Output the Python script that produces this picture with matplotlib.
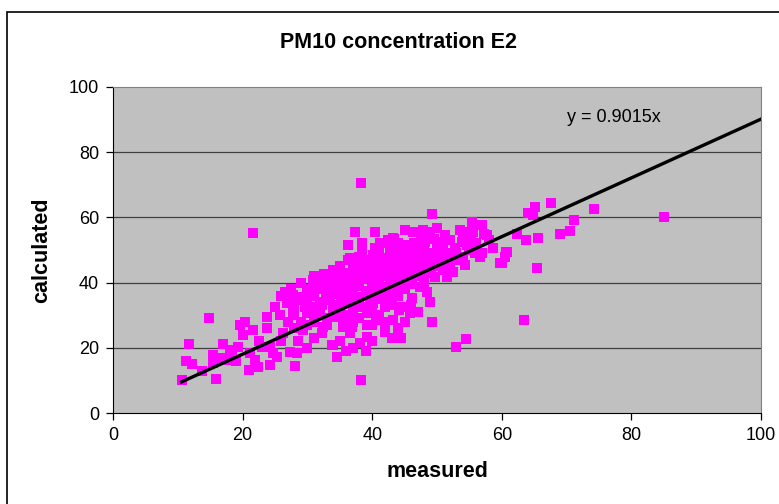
import matplotlib
matplotlib.use("Agg")
import matplotlib.pyplot as plt
from matplotlib.patches import Rectangle

plt.rcParams['font.family'] = ['Liberation Sans', 'DejaVu Sans']

# measured vs calculated PM10 (ug/m3), station E2
measured = [
    10.6, 11.7, 11.3, 12.2, 13.7, 14.8, 15.9, 15.4, 15.4, 17.0, 17.6, 18.4, 19.3, 19.6, 20.4,
    20.1, 21.6, 21.1, 21.0, 22.4, 21.9, 23.0, 23.8, 24.2, 23.8, 25.0, 25.8, 26.5, 27.8, 26.9,
    27.8, 26.2, 27.3, 28.1, 28.4, 24.7, 25.3, 24.2, 29.3, 29.9, 29.3, 29.9, 30.9, 32.4, 30.9,
    32.4, 33.8, 32.3, 33.5, 34.6, 35.5, 35.5, 36.9, 37.3, 34.6, 21.6, 16.5, 18.0, 19.0, 22.5,
    26.0, 27.0, 28.5, 30.0, 31.0, 28.0,
    38.3, 38.3, 44.5, 53.0, 54.5, 63.4, 49.2, 49.2, 65.4, 85.0, 74.2, 67.6, 71.1, 70.5, 69.0,
    65.6, 63.7, 62.3, 64.0, 65.1, 64.8, 60.6, 60.0, 60.5, 60.8, 59.7, 58.6, 57.7, 57.0, 55.4,
    55.6, 54.0, 53.9, 54.3, 56.6, 53.0, 51.5, 52.5, 50.9, 50.0, 48.9, 47.8, 46.3, 45.0, 43.2,
    42.7, 44.6, 46.9, 50.5, 49.4, 48.5, 49.7, 47.4, 48.5, 48.9, 46.1, 45.8, 44.6, 43.2, 42.0,
    40.1, 39.2, 39.2, 39.2, 38.1, 37.0, 36.6, 35.5, 34.0, 34.6, 37.3, 40.4, 36.3, 38.4, 41.2,
    36.3, 38.9, 40.1, 43.8,
    31.0, 32.0, 33.0, 33.0, 34.0, 34.0, 35.0, 35.0, 35.0, 36.0, 36.0, 36.0, 37.0, 37.0, 37.0,
    37.0, 38.0, 38.0, 38.0, 38.0, 39.0, 39.0, 39.0, 40.0, 40.0, 40.0, 40.0, 41.0, 41.0, 41.0,
    41.0, 42.0, 42.0, 42.0, 43.0, 43.0, 43.0, 43.0, 44.0, 44.0, 44.0, 44.0, 45.0, 45.0, 45.0,
    46.0, 46.0, 46.0, 47.0, 47.0, 47.0, 48.0, 48.0, 48.0, 49.0, 49.0, 50.0, 50.0, 51.0, 51.0,
    52.0, 52.0, 32.0, 33.0, 34.0, 36.0, 38.0, 40.0, 41.0, 42.0, 44.0, 45.0, 46.0, 47.0, 30.0,
    31.0, 32.0, 29.0, 28.0, 30.0, 31.0, 33.0, 35.0, 36.0, 37.0, 39.0, 40.0, 42.0, 43.0,
    51.0, 53.0, 55.0, 56.0, 57.0, 58.0, 52.0, 54.0, 26.0, 27.0, 27.5, 28.0, 28.5, 29.0, 30.0,
    31.0, 32.0, 33.0, 32.5, 39.5, 41.5, 43.5, 45.5, 47.5, 36.5, 38.5, 40.5, 42.5, 44.5, 46.5,
    34.5, 35.5, 37.5, 39.8, 42.2, 44.8, 46.8, 48.2, 49.6, 51.2, 53.5, 55.2,
    33.6, 34.8, 36.2, 37.6, 38.8, 40.2, 41.6, 42.8, 44.2, 45.6, 46.8, 48.2, 33.2, 34.6, 35.8,
    37.2, 38.6, 39.8, 41.2, 42.6, 43.8, 45.2, 46.6, 47.8, 35.2, 36.6, 37.8, 39.2, 40.6, 41.8,
    43.2, 44.6, 45.8, 47.2, 38.2, 39.6, 40.8, 42.2, 43.6, 44.8, 46.2, 29.6, 30.8, 32.2, 31.6,
    32.8, 34.2, 36.8, 45.4, 47.6, 49.8, 50.8, 52.8, 54.6, 55.8, 43.4, 44.2, 42.6, 40.6, 57.2,
]
calculated = [
    10.1, 21.2, 16.0, 15.0, 12.9, 29.0, 10.4, 17.8, 15.3, 21.2, 16.3, 19.3, 20.2, 27.0, 27.9,
    23.9, 25.5, 18.4, 13.2, 14.1, 16.3, 20.2, 26.1, 14.7, 29.4, 32.5, 30.0, 37.1, 36.2, 33.7,
    31.0, 24.5, 18.7, 14.4, 18.4, 18.4, 17.2, 20.2, 25.5, 30.7, 34.7, 37.7, 40.8, 39.9, 32.5,
    26.4, 20.9, 24.5, 34.7, 41.7, 40.8, 29.4, 26.4, 33.7, 17.2, 55.2, 17.0, 18.0, 16.0, 22.0,
    22.0, 28.0, 22.0, 20.0, 28.0, 26.0,
    70.5, 10.0, 23.0, 20.2, 22.6, 28.5, 27.9, 61.0, 44.5, 60.0, 62.6, 64.4, 59.2, 55.8, 54.9,
    53.7, 53.0, 55.0, 61.3, 63.2, 60.7, 49.4, 46.0, 48.0, 49.4, 46.0, 50.6, 54.6, 57.7, 58.6,
    55.5, 55.5, 52.5, 45.4, 47.9, 49.0, 41.7, 43.3, 52.5, 56.7, 55.5, 56.1, 55.5, 56.0, 53.7,
    50.6, 50.0, 50.0, 47.9, 46.9, 43.0, 41.7, 38.7, 37.0, 34.0, 35.3, 30.7, 32.5, 28.5, 32.5,
    33.7, 30.7, 27.0, 23.3, 21.5, 27.9, 24.5, 26.4, 20.9, 29.4, 55.5, 55.5, 51.5, 52.1, 52.1,
    46.9, 46.9, 48.5, 50.9,
    36.0, 38.0, 35.0, 41.0, 37.0, 44.0, 33.0, 38.0, 45.0, 36.0, 40.0, 43.0, 31.0, 37.0, 42.0,
    45.0, 34.0, 39.0, 44.0, 48.0, 36.0, 41.0, 45.0, 31.0, 38.0, 43.0, 46.0, 35.0, 40.0, 44.0,
    49.0, 37.0, 42.0, 46.0, 34.0, 39.0, 44.0, 48.0, 36.0, 41.0, 45.0, 52.0, 38.0, 43.0, 47.0,
    40.0, 45.0, 49.0, 42.0, 46.0, 52.0, 40.0, 47.0, 50.0, 44.0, 49.0, 45.0, 51.0, 47.0, 50.0,
    46.0, 53.0, 31.0, 29.0, 32.0, 30.0, 29.0, 27.0, 30.0, 28.0, 26.0, 28.0, 33.0, 31.0, 35.0,
    30.0, 34.0, 28.0, 33.0, 27.0, 23.0, 27.0, 22.0, 19.0, 20.0, 19.0, 22.0, 25.0, 23.0,
    44.0, 47.0, 50.0, 52.0, 49.0, 53.0, 49.0, 48.0, 36.0, 34.0, 38.0, 30.0, 35.5, 40.0, 38.0,
    42.0, 40.5, 37.5, 42.5, 37.0, 38.0, 40.5, 41.0, 44.0, 47.5, 49.0, 50.5, 53.0, 49.5, 52.0,
    39.5, 42.0, 40.0, 43.5, 47.5, 48.0, 50.5, 52.5, 53.5, 54.5, 56.0, 53.5,
    39.0, 40.5, 39.0, 40.5, 42.0, 41.0, 43.0, 41.5, 43.0, 44.5, 44.0, 45.5, 42.5, 36.5, 42.0,
    43.5, 45.0, 44.5, 46.5, 45.0, 47.0, 46.0, 47.5, 48.5, 35.0, 34.5, 35.5, 37.5, 36.5, 38.5,
    37.5, 39.5, 41.5, 43.0, 32.5, 33.5, 35.5, 34.5, 36.5, 38.0, 39.5, 32.5, 38.0, 33.0, 39.5,
    37.0, 30.5, 29.0, 51.5, 53.5, 48.5, 52.5, 50.5, 51.5, 49.0, 53.5, 31.5, 33.0, 28.5, 55.0,
]

slope = 0.9015
fit_x = [min(measured), 100]
fit_y = [slope * v for v in fit_x]

fig = plt.figure(figsize=(7.79, 5.04), dpi=100)
fig.patch.set_facecolor('white')
ax = fig.add_axes([113/779, 91/504, 648/779, 326/504])
ax.set_facecolor('#C0C0C0')

ax.plot(measured, calculated, 's', color='#FF00FF', markersize=7.2,
        markeredgewidth=0, zorder=3)
ax.plot(fit_x, fit_y, color='black', linewidth=2.4, zorder=4)
ax.text(70, 90.5, 'y = 0.9015x', fontsize=13, va='center', ha='left')

ax.set_xlim(0, 100)
ax.set_ylim(0, 100)
ax.set_xticks([0, 20, 40, 60, 80, 100])
ax.set_yticks([0, 20, 40, 60, 80, 100])
for v in [20, 40, 60, 80]:
    ax.axhline(v, color='#404040', linewidth=0.9, zorder=1)

ax.tick_params(direction='out', length=5, width=0.9, labelsize=13, pad=5)
ax.spines['left'].set_color('black')
ax.spines['bottom'].set_color('black')
ax.spines['top'].set_color('#808080')
ax.spines['right'].set_color('#808080')

ax.set_xlabel('measured', fontsize=15.5, fontweight='bold', labelpad=12)
ax.set_ylabel('calculated', fontsize=15.5, fontweight='bold', labelpad=12)
fig.text(398/779, 1 - 42/504, 'PM10 concentration E2', fontsize=15.5,
         fontweight='bold', ha='center', va='center')

# chart border, running off the right and bottom edges
fig.patches.append(Rectangle((7/779, -0.1), 1.2, (504 - 12)/504 + 0.1,
                             transform=fig.transFigure, fill=False,
                             edgecolor='black', linewidth=1.2))

fig.savefig('out.png', dpi=100)
